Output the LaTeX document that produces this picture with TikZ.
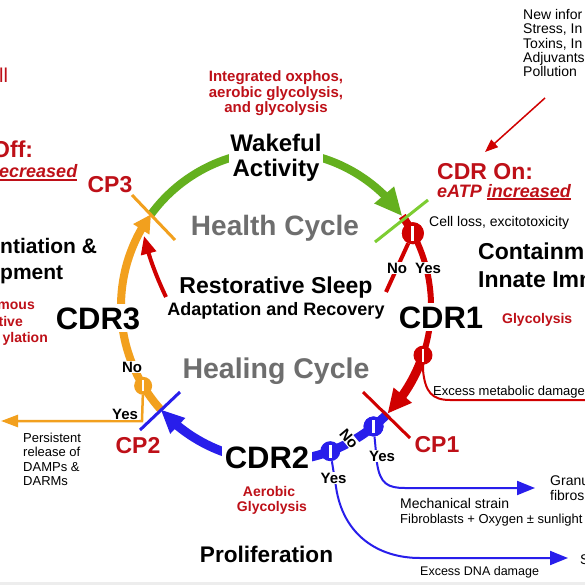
\documentclass[tikz,border=0pt]{standalone}
\usepackage{fontspec}
\setmainfont{Liberation Sans}
\usetikzlibrary{arrows.meta,bending,calc}
\pgfdeclarelayer{bg}
\pgfdeclarelayer{bgback}
\pgfsetlayers{bgback,bg,main}
\definecolor{grc}{RGB}{100,176,30}
\definecolor{grl}{RGB}{125,205,50}
\definecolor{orc}{RGB}{242,160,30}
\definecolor{rdc}{RGB}{208,0,0}
\definecolor{rdt}{RGB}{190,16,24}
\definecolor{blc}{RGB}{40,30,235}
\definecolor{gyc}{RGB}{110,110,110}
\newcommand\fsz[1]{\fontsize{#1}{#1}\selectfont}
\newsavebox\ulbox
\newcommand\myul[1]{\sbox\ulbox{#1}\rlap{\rule[-2.8pt]{\wd\ulbox}{1.4pt}}\usebox\ulbox}
\begin{document}
\begin{tikzpicture}[x=1pt,y=1pt,
  tx/.style={inner sep=0pt, anchor=base},
  tw/.style={inner sep=0pt, anchor=base west},
  te/.style={inner sep=0pt, anchor=base east},
  yn/.style={fill=white, inner sep=1pt, font=\fsz{15}\bfseries},
  valve/.style={circle, inner sep=0pt},
  cdr/.style={tx, fill=white, inner sep=3pt, font=\fsz{31}\bfseries},
  cpl/.style={tx, text=rdt, font=\fsz{23}\bfseries},
  small/.style={tw, font=\fsz{13}},
  redb/.style={text=rdt, font=\fsz{14}\bfseries}
]
\useasboundingbox (0,-585) rectangle (585,0);
\begin{pgfonlayer}{bgback}
\fill[white] (0,-585) rectangle (585,0);
\fill[black!7] (0,-585) rectangle (585,-582);
\end{pgfonlayer}

% circle geometry
\coordinate (C) at (276,-306);
\coordinate (pCP3) at ($(C)+(143.7:155pt)$);
\coordinate (pOn)  at ($(C)+(35.4:155pt)$);
\coordinate (pCP1) at ($(C)+(-44:155pt)$);
\coordinate (pCP2) at ($(C)+(221.8:155pt)$);
\coordinate (aR1) at ($(C)+(28:155pt)$);
\coordinate (aR2) at ($(C)+(-18.5:155pt)$);
\coordinate (aO)  at ($(C)+(211:155pt)$);
\coordinate (aB1) at ($(C)+(-51:155pt)$);
\coordinate (aB2) at ($(C)+(-69.5:155pt)$);

% free ends
\coordinate (qr2) at (386,-292);
\coordinate (qr3) at (166,-297);
\coordinate (qr4) at (144,-236);
\coordinate (oy1) at (142,-421);
\coordinate (oEnd) at (1,-421);
\coordinate (by1) at (377,-463);
\coordinate (by2) at (405,-488);
\coordinate (bEnd1) at (535,-488);
\coordinate (bz1) at (336,-487);
\coordinate (bz2) at (420,-558);
\coordinate (bEnd2) at (568,-558);
\coordinate (rx1) at (423,-370);
\coordinate (rx2) at (450,-400);
\coordinate (rx3) at (590,-400);
\coordinate (ra1) at (545,-98);
\coordinate (ra2) at (485,-152);
\coordinate (c3a) at (132,-195);
\coordinate (c3b) at (175,-240);
\coordinate (coa) at (375,-242);
\coordinate (cob) at (428,-200);
\coordinate (c1a) at (363,-392);
\coordinate (c1b) at (410,-438);
\coordinate (c2a) at (180,-392);
\coordinate (c2b) at (140,-430);

% valves
\node[valve, fill=rdc, minimum size=22pt] (vr1) at (aR1) {};
\node[valve, fill=rdc, minimum size=19pt] (vr2) at (aR2) {\color{white}\rule[-6.5pt]{2.6pt}{13pt}};
\node[valve, fill=orc, minimum size=18pt] (vo) at (aO) {\color{white}\rule[-5.5pt]{2.6pt}{11pt}};
\node[valve, fill=blc, minimum size=20pt] (vb1) at (aB1) {};
\node[valve, fill=blc, minimum size=20pt] (vb2) at (aB2) {\color{white}\rule[-6.5pt]{2.6pt}{13pt}};

\begin{pgfonlayer}{bg}
% main cycle arcs
\draw[grc, line width=8pt, -{Triangle[length=28pt,width=24pt]}] (pCP3) arc[start angle=143.7, end angle=35.4, radius=155pt];
\draw[orc, line width=8pt, -{Triangle[length=18pt,width=18pt]}] (pCP2) arc[start angle=221.8, end angle=143.7, radius=155pt];
\draw[rdc, line width=8pt] (pOn) arc[start angle=35.4, end angle=28, radius=155pt];
\draw[rdc, line width=6pt] (aR1) arc[start angle=28, end angle=-18.5, radius=155pt];
\draw[rdc, line width=9pt, -{Triangle[length=24pt,width=22pt]}] (aR2) arc[start angle=-18.5, end angle=-44, radius=155pt];
\draw[blc, line width=9pt, -{Triangle[length=24pt,width=20pt]}] (pCP1) arc[start angle=-44, end angle=-138.2, radius=155pt];
% inner red "No" path pieces
\draw[rdc, line width=4pt] (vr1) -- (qr2);
\draw[rdc, line width=4pt, -{Triangle[length=18pt,width=15pt]}] (qr3) .. controls (157,-278) and (149,-258) .. (qr4);
% branches
\draw[orc, line width=2.5pt, -{Triangle[length=17pt,width=12pt]}] (vo) -- (oy1) -- (oEnd);
\draw[blc, line width=2pt, -{Triangle[length=18pt,width=14pt]}] (vb1) -- (by1) .. controls (380,-484) and (388,-488) .. (by2) -- (bEnd1);
\draw[blc, line width=2pt, -{Triangle[length=18pt,width=14pt]}] (vb2) -- (bz1) .. controls (343,-535) and (378,-558) .. (bz2) -- (bEnd2);
\draw[rdc, line width=2pt] (vr2) -- (rx1) .. controls (425,-392) and (432,-400) .. (rx2) -- (rx3);
\draw[rdc, line width=1.5pt, -{Triangle[length=13pt,width=10pt]}] (ra1) -- (ra2);
\end{pgfonlayer}

% checkpoint cross lines
\draw[orc, line width=3pt] (c3a) -- (c3b);
\draw[grl, line width=3pt] (coa) -- (cob);
\draw[rdc, line width=3pt] (c1a) -- (c1b);
\draw[blc, line width=3pt] (c2a) -- (c2b);
% valves that sit against cross lines, drawn on top
\node[valve, fill=rdc, minimum size=22pt] (vr1b) at (aR1) {\color{white}\rule[-7.5pt]{3pt}{15pt}};
\node[valve, fill=blc, minimum size=20pt] (vb1b) at (aB1) {\color{white}\rule[-6.5pt]{2.6pt}{13pt}};

% top texts
\node[tx, text=rdt, font=\fsz{15}\bfseries] (ox1) at (276,-82) {Integrated oxphos,};
\node[tx, text=rdt, font=\fsz{15}\bfseries] (ox2) at (276,-98) {aerobic glycolysis,};
\node[tx, text=rdt, font=\fsz{15}\bfseries] (ox3) at (276,-113) {and glycolysis};
\node[fill=white, inner sep=1pt, align=center, font=\fontsize{24}{25}\selectfont\bfseries] (wa) at (276,-158) {Wakeful\\Activity};

\node[tx, text=gyc, font=\fsz{28}\bfseries] (hc) at (275,-235) {Health Cycle};
\node[tx, text=gyc, font=\fsz{28.5}\bfseries] (hl) at (276,-378) {Healing Cycle};
\node[tx, font=\fsz{23}\bfseries] (rs) at (276,-293) {Restorative Sleep};
\node[tx, font=\fsz{18}\bfseries] (ar) at (276,-315) {Adaptation and Recovery};

\node[cdr] (cdr1) at (441,-328) {CDR1};
\node[cdr] (cdr2) at (267,-468) {CDR2};
\node[cdr] (cdr3) at (98,-329) {CDR3};

\node[cpl] (cp1) at (437,-452) {CP1};
\node[cpl] (cp2) at (138,-453) {CP2};
\node[cpl] (cp3) at (110,-193) {CP3};

% yes / no labels
\node[yn] (ono) at (132,-367) {No};
\node[yn] (oyes) at (125,-414) {Yes};
\node[yn] (rno) at (397,-268) {No};
\node[yn] (ryes) at (428,-268) {Yes};
\node[yn, rotate=-50, inner sep=0.5pt] (bno) at (349,-439) {No};
\node[yn] (byes1) at (382,-456) {Yes};
\node[yn] (byes2) at (333.5,-478) {Yes};

% right side
\node[tw, text=rdt, font=\fsz{23}\bfseries] (on1) at (437,-180) {CDR On:};
\node[tw, text=rdt, font=\fsz{18}\bfseries\itshape] (on2) at (437,-197) {eATP \myul{increased}};
\node[tw, font=\fsz{14}] (n1) at (523,-20) {New infor};
\node[tw, font=\fsz{14}] (n2) at (523,-34) {Stress, In};
\node[tw, font=\fsz{14}] (n3) at (523,-48.5) {Toxins, In};
\node[tw, font=\fsz{14}] (n4) at (523,-62.5) {Adjuvants};
\node[tw, font=\fsz{14}] (n5) at (523,-77) {Pollution};
\node[tw, font=\fsz{14}] (cl) at (429,-226) {Cell loss, excitotoxicity};
\node[tw, font=\fsz{23}\bfseries] (ct1) at (478,-259) {Containm};
\node[tw, font=\fsz{23}\bfseries] (ct2) at (478,-287) {Innate Imm};
\node[tw, redb] (gly1) at (502,-323) {Glycolysis};
\node[small] (emd) at (433,-395) {Excess metabolic damage};
\node[tw, font=\fsz{14}] (ms) at (400,-508) {Mechanical strain};
\node[small] (fo) at (400,-523) {Fibroblasts + Oxygen ± sunlight};
\node[tw, font=\fsz{14}] (gr1) at (550,-485) {Granu};
\node[tw, font=\fsz{14}] (gr2) at (550,-500) {fibros};
\node[tw, font=\fsz{12.5}] (dna) at (420,-575) {Excess DNA damage};
\node[tw, font=\fsz{14}] (sx) at (580,-564) {S};

% bottom
\node[tx, font=\fsz{22.6}\bfseries] (pro) at (266.5,-562) {Proliferation};
\node[tx, redb] (ae1) at (269,-496) {Aerobic};
\node[tx, redb] (ae2) at (272,-511) {Glycolysis};

% left side
\node[tw, text=rdt, font=\fsz{20}] (ll) at (-1,-83) {ll};
\node[tw, text=rdt, font=\fsz{23}\bfseries] (off) at (-8,-158) {Off:};
\node[tw, text=rdt, font=\fsz{18}\bfseries\itshape] (dec) at (-1,-178) {\myul{ecreased}};
\node[tw, font=\fsz{21}\bfseries] (dif1) at (0,-253) {ntiation \&};
\node[tw, font=\fsz{21}\bfseries] (dif2) at (0,-279) {pment};
\node[te, redb] (au1) at (35,-309) {mous};
\node[te, redb] (au2) at (23,-326) {tive};
\node[te, redb] (au3) at (48,-342) {ylation};
\node[small] (pr1) at (23,-442) {Persistent};
\node[small] (pr2) at (23,-456.5) {release of};
\node[small] (pr3) at (23,-471) {DAMPs \&};
\node[small] (pr4) at (23,-485) {DARMs};
\end{tikzpicture}
\end{document}
